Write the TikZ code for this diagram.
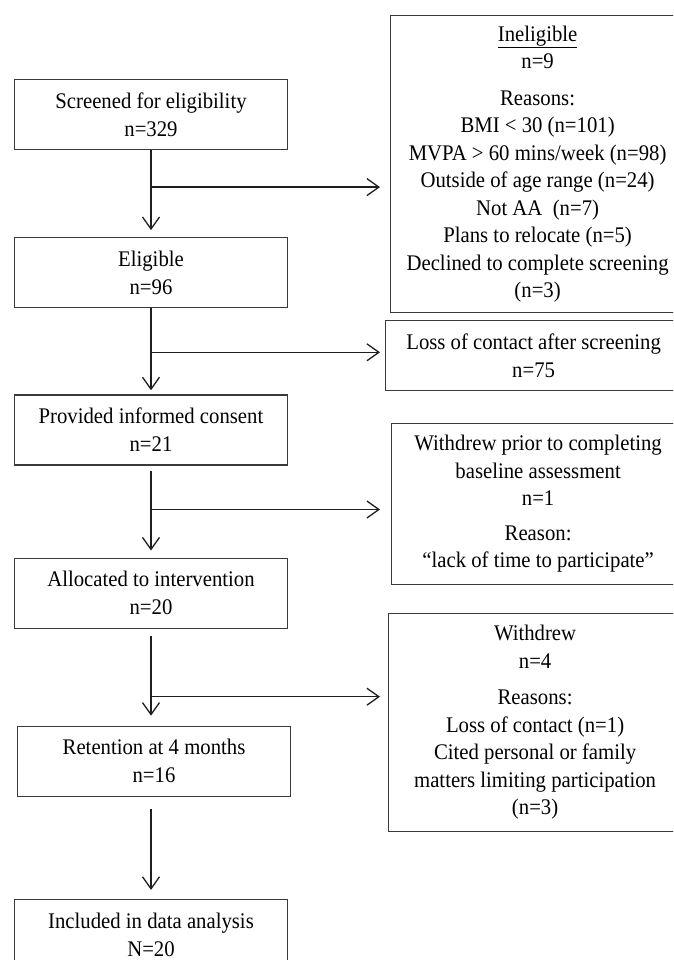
\documentclass[tikz,border=0pt]{standalone}
\usepackage{fontspec}
\setmainfont[FakeStretch=0.93]{Liberation Serif}
\usepackage{xcolor}
\usetikzlibrary{arrows.meta,positioning,calc}
\definecolor{boxline}{HTML}{3A3A3A}
\definecolor{flowline}{HTML}{1E1E1E}

\begin{document}
\begin{tikzpicture}[x=1pt, y=-1pt,
    box/.style={rectangle, draw=boxline, line width=1.2pt, minimum width=273pt, minimum height=70pt,
                inner sep=0pt, align=center, font=\fontsize{22.3}{28}\selectfont},
    side/.style={rectangle, draw=boxline, line width=1.2pt, inner sep=0pt, anchor=north west,
                 align=center, font=\fontsize{22.3}{27.5}\selectfont},
    arr/.style={-{Straight Barb[length=12pt, width=17pt, line width=1.3pt]}, line width=1.3pt, flowline}
]
\useasboundingbox (0,0) rectangle (673,960);
\clip (0,0) rectangle (673,960);

% main column
\node[box] (scr) at (151,114.5) {Screened for eligibility\\n=329};
\node[box, below=87pt of scr] (elig) {Eligible\\n=96};
\node[box, below=86pt of elig] (cons) {Provided informed consent\\n=21};
\node[box, below=92pt of cons] (alloc) {Allocated to intervention\\n=20};
\node[box, below=97pt of alloc, xshift=3pt] (ret) {Retention at 4 months\\n=16};
\node[box, below=102pt of ret, xshift=-3pt] (incl) {Included in data analysis\\N=20};

% exclusions
\node[side, minimum width=294pt, minimum height=297pt] (inel) at (390,15)
    {\underline{Ineligible}\\n=9\\[9pt]Reasons:\\BMI < 30 (n=101)\\MVPA > 60 mins/week (n=98)\\
     Outside of age range (n=24)\\Not AA~~(n=7)\\Plans to relocate (n=5)\\
     Declined to complete screening\\(n=3)};
\node[side, minimum width=296pt, minimum height=70pt] (loss) at (385,320)
    {Loss of contact after screening\\n=75};
\node[side, minimum width=293pt, minimum height=161pt] (wdp) at (391,423)
    {Withdrew prior to completing\\baseline assessment\\n=1\\[7pt]Reason:\\``lack of time to participate''};
\node[side, minimum width=293pt, minimum height=218pt] (wd) at (388,613)
    {Withdrew\\n=4\\[9pt]Reasons:\\Loss of contact (n=1)\\Cited personal or family\\
     matters limiting participation\\(n=3)};

% flow
\draw[arr, shorten >=7pt] (scr) -- (elig);
\draw[arr, shorten >=4pt] (elig) -- (cons);
\draw[arr, shorten <=5pt, shorten >=7pt] (cons) -- (alloc);
\draw[arr, shorten <=7pt, shorten >=10pt] (alloc.south) -- (alloc.south |- ret.north);
\draw[arr, shorten <=12pt, shorten >=9pt] (ret.south -| incl.north) -- (incl);

% branches
\coordinate (j1) at ($(scr.south)+(0,37)$);
\coordinate (j2) at ($(elig.south)+(0,44)$);
\coordinate (j3) at ($(cons.south)+(0,44)$);
\coordinate (j4) at ($(alloc.south)+(0,68)$);
\draw[arr, shorten >=10pt] (j1) -- (j1 -| inel.west);
\draw[arr, shorten >=5pt] (j2) -- (j2 -| loss.west);
\draw[arr, shorten >=11pt] (j3) -- (j3 -| wdp.west);
\draw[arr, shorten >=8pt] (j4) -- (j4 -| wd.west);
\end{tikzpicture}
\end{document}
